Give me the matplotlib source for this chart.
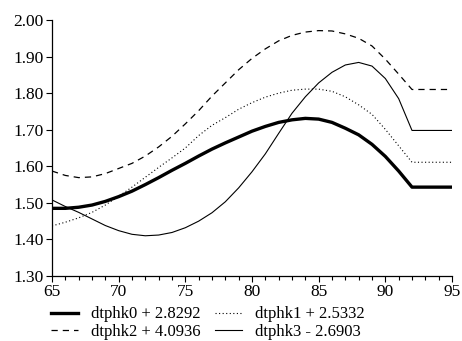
import numpy as np
import matplotlib
matplotlib.use("Agg")
import matplotlib.pyplot as plt
from matplotlib.ticker import MultipleLocator

# Data (one value per year)
years = list(range(65, 96))

dtphk0 = [1.485, 1.485, 1.488, 1.494, 1.504, 1.517, 1.532, 1.550, 1.569, 1.589,
          1.608, 1.628, 1.647, 1.664, 1.680, 1.696, 1.709, 1.720, 1.727, 1.731,
          1.729, 1.720, 1.704, 1.686, 1.660, 1.627, 1.587, 1.543, 1.543, 1.543,
          1.543]
dtphk1 = [1.437, 1.447, 1.459, 1.474, 1.494, 1.518, 1.543, 1.570, 1.597, 1.623,
          1.650, 1.684, 1.712, 1.733, 1.756, 1.774, 1.789, 1.800, 1.808, 1.811,
          1.811, 1.805, 1.790, 1.768, 1.742, 1.701, 1.656, 1.611, 1.611, 1.611,
          1.611]
dtphk2 = [1.587, 1.575, 1.569, 1.571, 1.580, 1.594, 1.608, 1.628, 1.653, 1.682,
          1.716, 1.752, 1.792, 1.828, 1.864, 1.895, 1.921, 1.943, 1.958, 1.967,
          1.971, 1.970, 1.962, 1.950, 1.929, 1.893, 1.852, 1.810, 1.810, 1.810,
          1.810]
dtphk3 = [1.508, 1.490, 1.474, 1.456, 1.438, 1.424, 1.414, 1.410, 1.412, 1.419,
          1.432, 1.450, 1.473, 1.503, 1.541, 1.585, 1.634, 1.690, 1.745, 1.790,
          1.828, 1.857, 1.877, 1.884, 1.874, 1.840, 1.785, 1.698, 1.698, 1.698,
          1.698]

labels = ["dtphk0 + 2.8292", "dtphk1 + 2.5332", "dtphk2 + 4.0936", "dtphk3 - 2.6903"]

plt.rcParams["font.family"] = "Liberation Serif"
tick_fs = 12.5
legend_fs = 12

fig = plt.figure(figsize=(4.62, 3.41), dpi=100)
ax = fig.add_axes([52 / 462, 1 - 276 / 341, 400 / 462, 256 / 341])

h0, = ax.plot(years, dtphk0, color="black", lw=2.4)
h1, = ax.plot(years, dtphk1, color="black", lw=0.8, linestyle=(0, (1, 2.2)))
h2, = ax.plot(years, dtphk2, color="black", lw=0.9, linestyle=(0, (5, 4)))
h3, = ax.plot(years, dtphk3, color="black", lw=0.8)

ax.set_xlim(65, 95)
ax.set_ylim(1.30, 2.00)
ax.xaxis.set_major_locator(MultipleLocator(5))
ax.xaxis.set_minor_locator(MultipleLocator(1))
ax.yaxis.set_major_locator(MultipleLocator(0.1))
ax.yaxis.set_major_formatter(plt.FormatStrFormatter("%.2f"))

for side in ["top", "right"]:
    ax.spines[side].set_visible(False)
ax.spines["left"].set_linewidth(0.9)
ax.spines["bottom"].set_linewidth(0.9)
ax.tick_params(which="major", direction="out", length=4, width=0.8, labelsize=tick_fs, pad=2)
ax.tick_params(which="minor", direction="out", length=3, width=0.8)

# legend fills column-wise, so order it to read row by row
fig.legend([h0, h2, h1, h3], [labels[0], labels[2], labels[1], labels[3]],
           ncol=2, loc="lower left", bbox_to_anchor=(50 / 462, 0.0),
           frameon=False, fontsize=legend_fs, handlelength=1.6, handletextpad=0.8,
           columnspacing=0.9, labelspacing=0.1, borderpad=0.05, borderaxespad=0)

fig.savefig("out.png", dpi=100)
